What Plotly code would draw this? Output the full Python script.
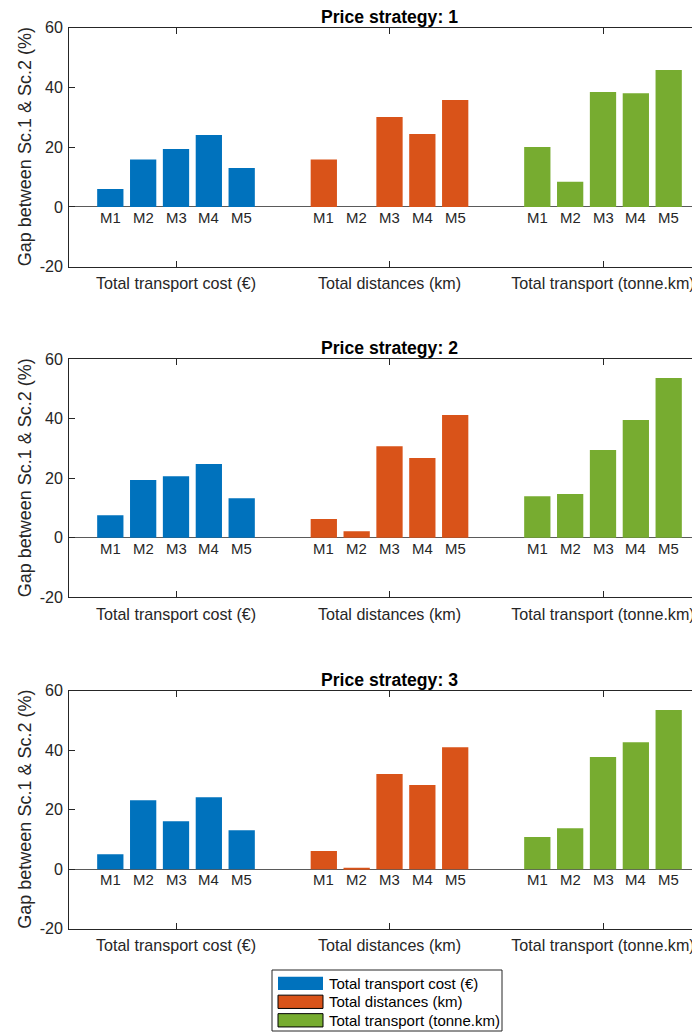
import plotly.graph_objects as go

# ---------------- data ----------------
categories = ["Total transport cost (€)", "Total distances (km)", "Total transport (tonne.km)"]
methods = ["M1", "M2", "M3", "M4", "M5"]
strategies = ["Price strategy: 1", "Price strategy: 2", "Price strategy: 3"]

# strategy 1
cost_s1 = [6.0, 15.9, 19.4, 24.1, 13.0]
dist_s1 = [15.9, 0.0, 30.1, 24.4, 35.8]
tkm_s1 = [20.1, 8.4, 38.5, 38.1, 45.8]
# strategy 2
cost_s2 = [7.6, 19.4, 20.7, 24.8, 13.3]
dist_s2 = [6.3, 2.2, 30.8, 26.8, 41.3]
tkm_s2 = [14.0, 14.7, 29.5, 39.6, 53.7]
# strategy 3
cost_s3 = [5.0, 23.2, 16.1, 24.2, 13.1]
dist_s3 = [6.1, 0.3, 32.0, 28.3, 41.0]
tkm_s3 = [10.8, 13.8, 37.7, 42.7, 53.5]

y_ticks = [-20, 0, 20, 40, 60]
y_tick_text = ["-20", "0", "20", "40", "60"]
y_label = "Gap between Sc.1 & Sc.2 (%)"

panels = [
    [cost_s1, dist_s1, tkm_s1],
    [cost_s2, dist_s2, tkm_s2],
    [cost_s3, dist_s3, tkm_s3],
]

# ---------------- style ----------------
colors = ["#0072BD", "#D95319", "#77AC30"]
swatch_edge = [None, "#000000", "#000000"]
ink = "#262626"
FONT = "Liberation Sans, Arial, Helvetica, sans-serif"
TICK_FS, LABEL_FS, TITLE_FS, M_FS, LEG_FS = 16.1, 18.0, 17.6, 14.9, 15.0

# page window is 700x1032; the page body adds an 8px margin,
# so positions are given in page px and converted (page px - 8).
OFF = 8
W, H = 700 - OFF, 1032 - OFF


def fy(page_y):
    return 1 - (page_y - OFF) / H


def fx(page_x):
    return (page_x - OFF) / W


# pixel geometry of the three axes in page coords (top, bottom)
panel_px = [(27.7, 266.7), (359.3, 597.3), (690.7, 928.7)]
left_px = 69.25
unit_px = 213.5                     # pixels per category unit
x_lo = 0.5
x_hi = x_lo + (700 - left_px) / unit_px

n_m = len(methods)
group_w = min(0.8, n_m / (n_m + 1.5))
step = group_w / n_m
bar_w = step * 0.8
offsets = [(i - (n_m - 1) / 2) * step for i in range(n_m)]

fig = go.Figure()
annotations = []
shapes = []

for p, series_list in enumerate(panels):
    xa = "x" if p == 0 else f"x{p+1}"
    ya = "y" if p == 0 else f"y{p+1}"
    for c, vals in enumerate(series_list):
        xs = [c + 1 + o for o in offsets]
        fig.add_trace(go.Bar(
            x=xs, y=vals, width=bar_w,
            marker=dict(color=colors[c], line=dict(width=0)),
            name=categories[c], legendgroup=categories[c],
            showlegend=False,
            xaxis=xa, yaxis=ya,
            hovertemplate="%{y}<extra></extra>",
        ))
        for i, m in enumerate(methods):
            annotations.append(dict(
                x=c + 1 + offsets[i], y=0, xref=xa, yref=ya,
                text=m, showarrow=False, yanchor="top", xanchor="center",
                yshift=-1, font=dict(size=M_FS, color=ink, family=FONT),
            ))
    # title
    annotations.append(dict(
        x=(x_lo + 3.5) / 2, y=60, xref=xa, yref=ya,
        text=f"<b>{strategies[p]}</b>", showarrow=False,
        xanchor="center", yanchor="bottom", yshift=0, borderpad=0,
        font=dict(size=TITLE_FS, color="#000000", family=FONT),
    ))
    # y label
    top, bot = panel_px[p]
    annotations.append(dict(
        x=fx(25), y=fy((top + bot) / 2),
        xref="paper", yref="paper",
        text=y_label, textangle=-90, showarrow=False,
        xanchor="center", yanchor="middle",
        font=dict(size=LABEL_FS, color=ink, family=FONT),
    ))

# ---------------- legend box (MATLAB style) ----------------
leg_left, leg_right, leg_top, leg_bottom = 272, 502, 970, 1031
sw_x0, sw_x1, sw_h = 278, 323, 13.3
row0, row_step = 983.3, 18.5
text_x = 327
shapes.append(dict(
    type="rect", xref="paper", yref="paper",
    x0=fx(leg_left), x1=fx(leg_right), y0=fy(leg_bottom), y1=fy(leg_top),
    line=dict(color=ink, width=1), fillcolor="white", layer="above",
))
for c, name in enumerate(categories):
    cy = row0 + c * row_step
    edge = swatch_edge[c]
    shapes.append(dict(
        type="rect", xref="paper", yref="paper",
        x0=fx(sw_x0), x1=fx(sw_x1), y0=fy(cy + sw_h / 2), y1=fy(cy - sw_h / 2),
        fillcolor=colors[c], layer="above",
        line=dict(color=edge if edge else colors[c], width=1 if edge else 0),
    ))
    annotations.append(dict(
        x=fx(text_x), y=fy(cy), xref="paper", yref="paper",
        text=name, showarrow=False, xanchor="left", yanchor="middle",
        font=dict(size=LEG_FS, color="#000000", family=FONT),
    ))

layout = dict(
    width=W, height=H,
    margin=dict(l=0, r=0, t=0, b=0),
    paper_bgcolor="white", plot_bgcolor="white",
    font=dict(family=FONT, color=ink, size=TICK_FS),
    barmode="overlay",
    showlegend=False,
    annotations=annotations,
    shapes=shapes,
)

for p in range(3):
    top, bot = panel_px[p]
    xk = "xaxis" if p == 0 else f"xaxis{p+1}"
    yk = "yaxis" if p == 0 else f"yaxis{p+1}"
    ya = "y" if p == 0 else f"y{p+1}"
    xa = "x" if p == 0 else f"x{p+1}"
    layout[xk] = dict(
        domain=[fx(left_px), 1], range=[x_lo, x_hi],
        tickmode="array", tickvals=[1, 2, 3], ticktext=categories,
        ticks="inside", ticklen=6, tickwidth=1, tickcolor=ink,
        showline=True, linecolor=ink, linewidth=1, mirror="ticks",
        showgrid=False, zeroline=False, anchor=ya, automargin=False,
        ticklabelstandoff=2,
        tickfont=dict(size=TICK_FS, color=ink, family=FONT),
        fixedrange=True,
    )
    layout[yk] = dict(
        domain=[fy(bot), fy(top)], range=[-20, 60],
        tickmode="array", tickvals=y_ticks, ticktext=y_tick_text,
        ticks="inside", ticklen=6, tickwidth=1, tickcolor=ink,
        showline=True, linecolor=ink, linewidth=1, mirror=False,
        showgrid=False, zeroline=True, zerolinecolor="#5a5a5a", zerolinewidth=1.2,
        anchor=xa, automargin=False, ticklabelstandoff=2,
        tickfont=dict(size=TICK_FS, color=ink, family=FONT),
        fixedrange=True,
    )

fig.update_layout(**layout)
fig.write_html("out.html")
